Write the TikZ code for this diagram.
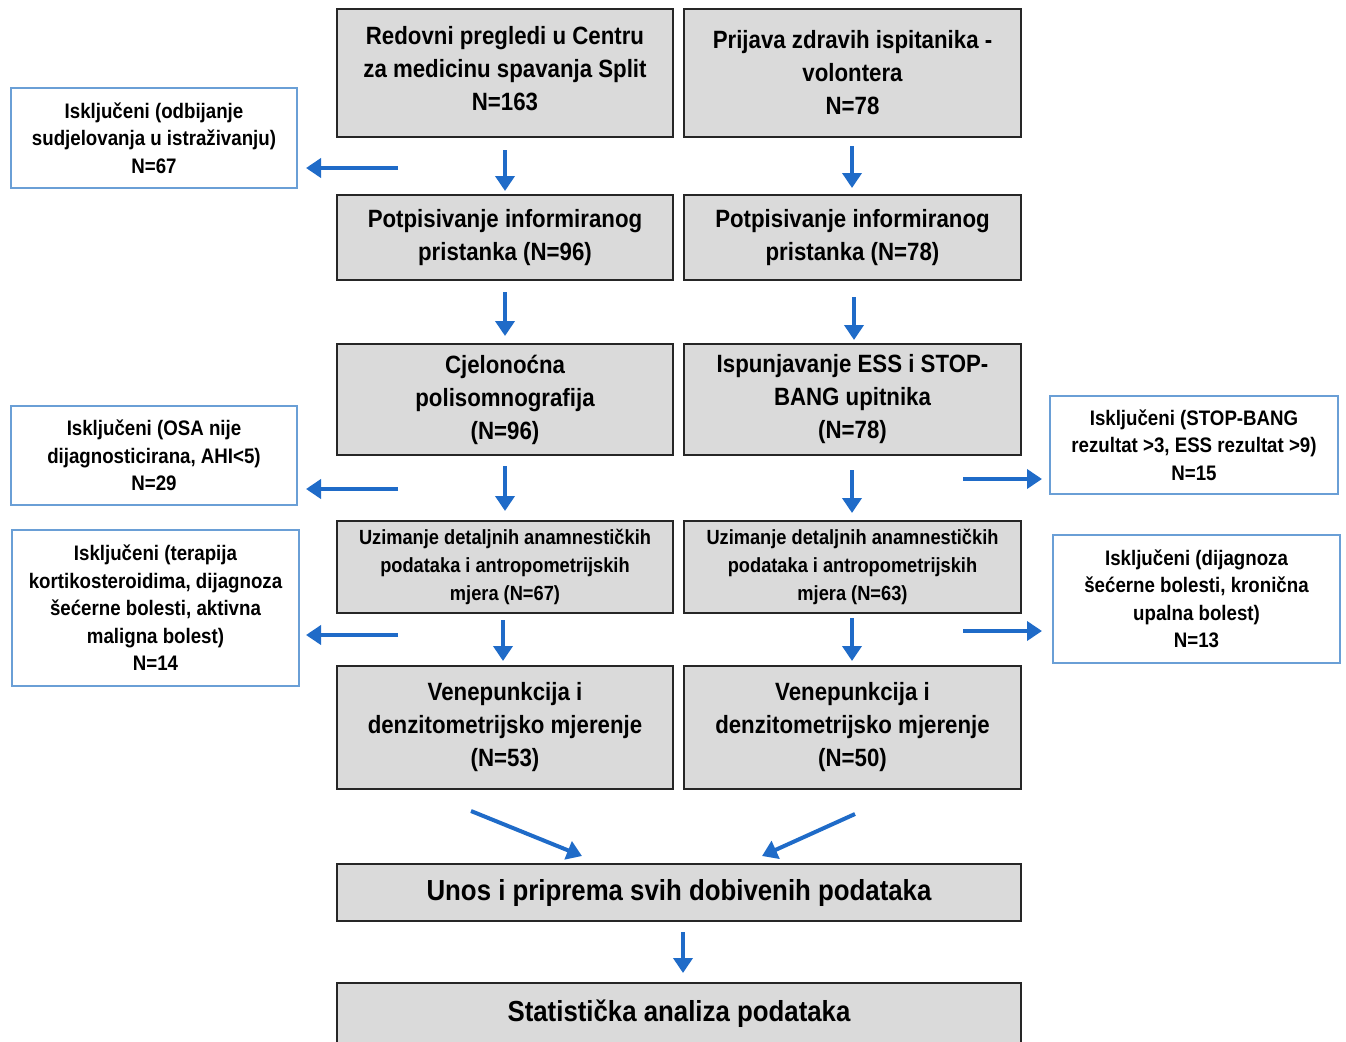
\documentclass[tikz,border=0pt]{standalone}
\usepackage{fontspec}
\setmainfont{Liberation Sans}[FakeStretch=0.89]
\usetikzlibrary{arrows.meta}
\definecolor{arrblue}{HTML}{1F6BC8}
\definecolor{exblue}{HTML}{6A9FD6}
\definecolor{boxgray}{HTML}{DADADA}
\tikzset{
  mainbox/.style={draw=black!85, line width=2.4pt, fill=boxgray, align=center, inner sep=0pt,
    font=\fontsize{25}{33}\selectfont\bfseries},
  smallbox/.style={mainbox, font=\fontsize{20.5}{28}\selectfont\bfseries},
  widebox/.style={mainbox, font=\fontsize{29}{33}\selectfont\bfseries},
  exbox/.style={draw=exblue, line width=2pt, fill=white, align=center, inner sep=0pt,
    font=\fontsize{21}{27.5}\selectfont\bfseries},
  flow/.style={draw=arrblue, line width=4pt, -{Triangle[width=19pt,length=15pt]}}
}
\begin{document}
\begin{tikzpicture}[x=1pt,y=-1pt]
\useasboundingbox (0,0) rectangle (1346,1041);
% main boxes
\node[mainbox, minimum width=336, minimum height=128] (L1) at (505,73) {Redovni pregledi u Centru\\za medicinu spavanja Split\\N=163\\[-23pt]};
\node[mainbox, minimum width=337, minimum height=128] (R1) at (852.5,73) {Prijava zdravih ispitanika -\\volontera\\N=78};
\node[mainbox, minimum width=336, minimum height=85] (L2) at (505,237.5) {Potpisivanje informiranog\\pristanka (N=96)};
\node[mainbox, minimum width=337, minimum height=85] (R2) at (852.5,237.5) {Potpisivanje informiranog\\pristanka (N=78)};
\node[mainbox, minimum width=336, minimum height=111] (L3) at (505,399.5) {Cjelonoćna\\polisomnografija\\(N=96)};
\node[mainbox, minimum width=337, minimum height=111] (R3) at (852.5,399.5) {Ispunjavanje ESS i STOP-\\BANG upitnika\\(N=78)};
\node[smallbox, minimum width=336, minimum height=92] (L4) at (505,567) {Uzimanje detaljnih anamnestičkih\\podataka i antropometrijskih\\mjera (N=67)};
\node[smallbox, minimum width=337, minimum height=92] (R4) at (852.5,567) {Uzimanje detaljnih anamnestičkih\\podataka i antropometrijskih\\mjera (N=63)};
\node[mainbox, minimum width=336, minimum height=123] (L5) at (505,727.5) {Venepunkcija i\\denzitometrijsko mjerenje\\(N=53)};
\node[mainbox, minimum width=337, minimum height=123] (R5) at (852.5,727.5) {Venepunkcija i\\denzitometrijsko mjerenje\\(N=50)};
\node[widebox, minimum width=684, minimum height=57] (U) at (679,892.5) {Unos i priprema svih dobivenih podataka};
\node[widebox, minimum width=684, minimum height=62] (S) at (679,1014) {\raisebox{2pt}{Statistička analiza podataka}};
% exclusion boxes
\node[exbox, minimum width=286, minimum height=100] (E1) at (154,138) {Isključeni (odbijanje\\sudjelovanja u istraživanju)\\N=67};
\node[exbox, minimum width=286, minimum height=99] (E2) at (154,455.5) {Isključeni (OSA nije\\dijagnosticirana, AHI<5)\\N=29};
\node[exbox, minimum width=287, minimum height=156] (E3) at (155.5,608) {Isključeni (terapija\\kortikosteroidima, dijagnoza\\šećerne bolesti, aktivna\\maligna bolest)\\N=14};
\node[exbox, minimum width=288, minimum height=98] (E4) at (1194,445) {Isključeni (STOP-BANG\\rezultat >3, ESS rezultat >9)\\N=15};
\node[exbox, minimum width=287, minimum height=128] (E5) at (1196.5,599) {Isključeni (dijagnoza\\šećerne bolesti, kronična\\upalna bolest)\\N=13};
% arrow end points
\coordinate (a1s) at (398,168); \coordinate (a1e) at (306,168);
\coordinate (a2s) at (398,489); \coordinate (a2e) at (306,489);
\coordinate (a3s) at (398,635); \coordinate (a3e) at (306,635);
\coordinate (a4s) at (963,479); \coordinate (a4e) at (1042,479);
\coordinate (a5s) at (963,631); \coordinate (a5e) at (1042,631);
\coordinate (d1s) at (505,150); \coordinate (d1e) at (505,191);
\coordinate (d2s) at (505,292); \coordinate (d2e) at (505,336);
\coordinate (d3s) at (505,466); \coordinate (d3e) at (505,511);
\coordinate (d4s) at (503,620); \coordinate (d4e) at (503,661);
\coordinate (d5s) at (852,146); \coordinate (d5e) at (852,188);
\coordinate (d6s) at (854,297); \coordinate (d6e) at (854,340);
\coordinate (d7s) at (852,470); \coordinate (d7e) at (852,513);
\coordinate (d8s) at (852,618); \coordinate (d8e) at (852,661);
\coordinate (g1s) at (471,811); \coordinate (g1e) at (582,856);
\coordinate (g2s) at (855,814); \coordinate (g2e) at (762,856);
\coordinate (d9s) at (683,932); \coordinate (d9e) at (683,973);
\foreach \p in {a1,a2,a3,a4,a5,d1,d2,d3,d4,d5,d6,d7,d8,d9,g1,g2}
  \draw[flow] (\p s) -- (\p e);
\end{tikzpicture}
\end{document}
